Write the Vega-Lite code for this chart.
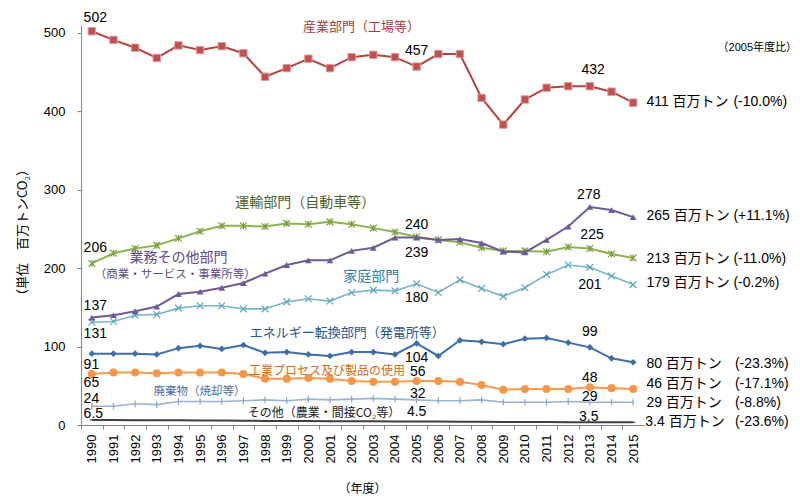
{
  "$schema": "https://vega.github.io/schema/vega-lite/v6.json",
  "width": 563,
  "height": 400,
  "autosize": {"type": "none"},
  "padding": {"left": 81, "top": 25, "right": 156, "bottom": 78},
  "background": "white",
  "config": {"view": {"stroke": null}},
  "datasets": {
    "wide": [
      {"year": 1990, "ind": 502, "tra": 206, "com": 137, "hou": 131, "ene": 91, "ipp": 65, "was": 24, "oth": 6.5},
      {"year": 1991, "ind": 491, "tra": 219, "com": 140, "hou": 132, "ene": 91, "ipp": 67, "was": 24, "oth": 6.4},
      {"year": 1992, "ind": 481, "tra": 225, "com": 145, "hou": 140, "ene": 91, "ipp": 67, "was": 27, "oth": 6.2},
      {"year": 1993, "ind": 468, "tra": 229, "com": 151, "hou": 141, "ene": 90, "ipp": 66, "was": 26, "oth": 6.0},
      {"year": 1994, "ind": 484, "tra": 238, "com": 167, "hou": 149, "ene": 98, "ipp": 67, "was": 30, "oth": 5.9},
      {"year": 1995, "ind": 478, "tra": 247, "com": 170, "hou": 152, "ene": 101, "ipp": 67, "was": 30, "oth": 5.8},
      {"year": 1996, "ind": 483, "tra": 254, "com": 175, "hou": 152, "ene": 97, "ipp": 67, "was": 30, "oth": 5.6},
      {"year": 1997, "ind": 474, "tra": 254, "com": 181, "hou": 148, "ene": 102, "ipp": 65, "was": 31, "oth": 5.4},
      {"year": 1998, "ind": 444, "tra": 253, "com": 193, "hou": 148, "ene": 92, "ipp": 59, "was": 32, "oth": 5.2},
      {"year": 1999, "ind": 455, "tra": 257, "com": 204, "hou": 157, "ene": 93, "ipp": 59, "was": 31, "oth": 5.1},
      {"year": 2000, "ind": 467, "tra": 256, "com": 210, "hou": 161, "ene": 90, "ipp": 60, "was": 33, "oth": 5.0},
      {"year": 2001, "ind": 455, "tra": 259, "com": 210, "hou": 158, "ene": 88, "ipp": 59, "was": 32, "oth": 4.9},
      {"year": 2002, "ind": 469, "tra": 256, "com": 222, "hou": 169, "ene": 93, "ipp": 56, "was": 33, "oth": 4.8},
      {"year": 2003, "ind": 472, "tra": 251, "com": 226, "hou": 172, "ene": 93, "ipp": 55, "was": 34, "oth": 4.7},
      {"year": 2004, "ind": 469, "tra": 246, "com": 239, "hou": 171, "ene": 90, "ipp": 55, "was": 33, "oth": 4.6},
      {"year": 2005, "ind": 457, "tra": 240, "com": 239, "hou": 180, "ene": 104, "ipp": 56, "was": 32, "oth": 4.5},
      {"year": 2006, "ind": 473, "tra": 236, "com": 236, "hou": 169, "ene": 88, "ipp": 56, "was": 31, "oth": 4.4},
      {"year": 2007, "ind": 473, "tra": 233, "com": 237, "hou": 185, "ene": 108, "ipp": 55, "was": 31, "oth": 4.2},
      {"year": 2008, "ind": 417, "tra": 226, "com": 232, "hou": 174, "ene": 106, "ipp": 51, "was": 32, "oth": 4.0},
      {"year": 2009, "ind": 383, "tra": 222, "com": 221, "hou": 164, "ene": 103, "ipp": 45, "was": 29, "oth": 3.9},
      {"year": 2010, "ind": 415, "tra": 222, "com": 220, "hou": 175, "ene": 110, "ipp": 46, "was": 29, "oth": 3.8},
      {"year": 2011, "ind": 430, "tra": 221, "com": 236, "hou": 192, "ene": 111, "ipp": 46, "was": 29, "oth": 3.7},
      {"year": 2012, "ind": 432, "tra": 227, "com": 253, "hou": 204, "ene": 105, "ipp": 46, "was": 30, "oth": 3.6},
      {"year": 2013, "ind": 432, "tra": 225, "com": 278, "hou": 201, "ene": 99, "ipp": 48, "was": 29, "oth": 3.5},
      {"year": 2014, "ind": 425, "tra": 218, "com": 274, "hou": 190, "ene": 85, "ipp": 47, "was": 29, "oth": 3.5},
      {"year": 2015, "ind": 411, "tra": 213, "com": 265, "hou": 179, "ene": 80, "ipp": 46, "was": 29, "oth": 3.4}
    ],
    "numsC": [
      {"year": 2005, "value": 477, "label": "457"},
      {"year": 2013.15, "value": 453, "label": "432"},
      {"year": 2012.95, "value": 293, "label": "278"},
      {"year": 2005, "value": 255, "label": "240"},
      {"year": 2005, "value": 219, "label": "239"},
      {"year": 2013.1, "value": 242, "label": "225"},
      {"year": 2005, "value": 162, "label": "180"},
      {"year": 2013, "value": 179, "label": "201"},
      {"year": 2005, "value": 86, "label": "104"},
      {"year": 2013, "value": 118, "label": "99"},
      {"year": 2005.05, "value": 67, "label": "56"},
      {"year": 2013, "value": 60, "label": "48"},
      {"year": 2005.05, "value": 40, "label": "32"},
      {"year": 2013, "value": 36, "label": "29"},
      {"year": 2005, "value": 17, "label": "4.5"},
      {"year": 2012.95, "value": 10.5, "label": "3.5"}
    ],
    "numsL": [
      {"year": 1989.62, "value": 519, "label": "502"},
      {"year": 1989.62, "value": 226, "label": "206"},
      {"year": 1989.62, "value": 152, "label": "137"},
      {"year": 1989.62, "value": 116, "label": "131"},
      {"year": 1989.62, "value": 76.5, "label": "91"},
      {"year": 1989.62, "value": 53.5, "label": "65"},
      {"year": 1989.62, "value": 33.5, "label": "24"},
      {"year": 1989.62, "value": 14.5, "label": "6.5"}
    ],
    "cats13": [
      {"year": 2002.45, "value": 507.7, "label": "産業部門（工場等）"},
      {"year": 2001.8, "value": 117, "label": "エネルギー転換部門（発電所等）"}
    ],
    "cats14": [
      {"year": 1999.86, "value": 282.8, "label": "運輸部門（自動車等）"},
      {"year": 1994.0, "value": 213, "label": "業務その他部門"},
      {"year": 2002.9, "value": 189.2, "label": "家庭部門"}
    ],
    "cats12": [
      {"year": 2000.86, "value": 69.3, "label": "工業プロセス及び製品の使用"},
      {"year": 2000.72, "value": 14.9, "label": "その他（農業・間接CO₂等）"}
    ],
    "cats11": [
      {"year": 1993.85, "value": 191.5, "label": "（商業・サービス・事業所等）"},
      {"year": 1994.97, "value": 42.5, "label": "廃棄物（焼却等）"}
    ],
    "rightA": [
      {"year": 2015.61, "value": 412, "label": "411 百万トン"},
      {"year": 2015.61, "value": 266.6, "label": "265 百万トン"},
      {"year": 2015.61, "value": 211.7, "label": "213 百万トン"},
      {"year": 2015.61, "value": 180.7, "label": "179 百万トン"},
      {"year": 2015.61, "value": 77.8, "label": "80 百万トン"},
      {"year": 2015.61, "value": 52.3, "label": "46 百万トン"},
      {"year": 2015.61, "value": 28.4, "label": "29 百万トン"},
      {"year": 2015.56, "value": 3.8, "label": "3.4 百万トン"}
    ],
    "rightB": [
      {"year": 2019.63, "value": 412, "label": "(-10.0%)"},
      {"year": 2019.63, "value": 266.6, "label": "(+11.1%)"},
      {"year": 2019.63, "value": 211.7, "label": "(-11.0%)"},
      {"year": 2019.63, "value": 180.7, "label": "(-0.2%)"},
      {"year": 2019.7, "value": 77.8, "label": "(-23.3%)"},
      {"year": 2019.7, "value": 52.3, "label": "(-17.1%)"},
      {"year": 2019.7, "value": 28.4, "label": "(-8.8%)"},
      {"year": 2019.7, "value": 3.8, "label": "(-23.6%)"}
    ],
    "note": [
      {"year": 2018.9, "value": 481, "label": "（2005年度比）"}
    ]
  },
  "encoding": {
    "x": {
      "field": "year",
      "type": "quantitative",
      "scale": {"domain": [1989.5, 2015.5], "nice": false, "zero": false},
      "axis": {
        "values": [1990, 1991, 1992, 1993, 1994, 1995, 1996, 1997, 1998, 1999, 2000, 2001, 2002, 2003, 2004, 2005, 2006, 2007, 2008, 2009, 2010, 2011, 2012, 2013, 2014, 2015, 2016],
        "format": "d",
        "labelExpr": "datum.value > 2015 ? '' : datum.label",
        "labelAngle": 270,
        "labelFlush": false,
        "labelOverlap": false,
        "tickOffset": -10.82,
        "labelOffset": 10.82,
        "grid": false,
        "tickSize": 4,
        "tickColor": "#868686",
        "domainColor": "#868686",
        "labelFont": "Liberation Sans",
        "labelFontSize": 13,
        "labelColor": "#000000",
        "labelPadding": 5,
        "title": "（年度）",
        "titleFont": "Noto Sans CJK JP",
        "titleFontSize": 12,
        "titleFontWeight": "normal",
        "titleColor": "#000000",
        "titleX": 281,
        "titleY": 63,
        "titleAlign": "center",
        "titleBaseline": "middle"
      }
    },
    "y": {
      "field": "value",
      "type": "quantitative",
      "scale": {"domain": [0, 510], "nice": false},
      "axis": {
        "values": [0, 100, 200, 300, 400, 500],
        "grid": false,
        "labelFlush": false,
        "tickSize": 4,
        "tickColor": "#868686",
        "domainColor": "#868686",
        "labelFont": "Liberation Sans",
        "labelFontSize": 13,
        "labelColor": "#000000",
        "labelPadding": 12,
        "title": "（単位　百万トンCO₂）",
        "titleFont": "Noto Sans CJK JP",
        "titleFontSize": 13,
        "titleFontWeight": "normal",
        "titleColor": "#000000",
        "titleAngle": 270,
        "titleX": -59,
        "titleY": 207,
        "titleAlign": "center",
        "titleBaseline": "middle"
      }
    }
  },
  "layer": [
    {
      "data": {"name": "wide"},
      "transform": [{"fold": ["oth"], "as": ["series", "value"]}],
      "layer": [
        {"mark": {"type": "line", "color": "#3f3f3f", "strokeWidth": 2}},
        {"mark": {"type": "point", "shape": "M-1,0L1,0", "filled": false, "color": "#3f3f3f", "size": 20, "strokeWidth": 1, "opacity": 1}}
      ]
    },
    {
      "data": {"name": "wide"},
      "transform": [{"fold": ["was"], "as": ["series", "value"]}],
      "layer": [
        {"mark": {"type": "line", "color": "#9ab2d7", "strokeWidth": 1.6}},
        {"mark": {"type": "point", "shape": "M0,-1L0,1", "filled": false, "color": "#8aa5cf", "size": 45, "strokeWidth": 1.2, "opacity": 1}}
      ]
    },
    {
      "data": {"name": "wide"},
      "transform": [{"fold": ["ipp"], "as": ["series", "value"]}],
      "layer": [
        {"mark": {"type": "line", "color": "#f59a4e", "strokeWidth": 2}},
        {"mark": {"type": "point", "shape": "circle", "filled": true, "color": "#f79646", "size": 65, "opacity": 1}}
      ]
    },
    {
      "data": {"name": "wide"},
      "transform": [{"fold": ["ene"], "as": ["series", "value"]}],
      "layer": [
        {"mark": {"type": "line", "color": "#3e6ea6", "strokeWidth": 2}},
        {"mark": {"type": "point", "shape": "diamond", "filled": true, "color": "#3e6ea6", "size": 45, "opacity": 1}}
      ]
    },
    {
      "data": {"name": "wide"},
      "transform": [{"fold": ["hou"], "as": ["series", "value"]}],
      "layer": [
        {"mark": {"type": "line", "color": "#78b6cb", "strokeWidth": 1.6}},
        {"mark": {"type": "point", "shape": "M-1,-1L1,1M-1,1L1,-1", "filled": false, "color": "#5fa6bf", "size": 45, "strokeWidth": 1.2, "opacity": 1}}
      ]
    },
    {
      "data": {"name": "wide"},
      "transform": [{"fold": ["tra"], "as": ["series", "value"]}],
      "layer": [
        {"mark": {"type": "line", "color": "#8db350", "strokeWidth": 2}},
        {"mark": {"type": "point", "shape": "M-1,-1L1,1M-1,1L1,-1M0,-1L0,1", "filled": false, "color": "#7aa03e", "size": 45, "strokeWidth": 1.2, "opacity": 1}}
      ]
    },
    {
      "data": {"name": "wide"},
      "transform": [{"fold": ["com"], "as": ["series", "value"]}],
      "layer": [
        {"mark": {"type": "line", "color": "#6f5a98", "strokeWidth": 2}},
        {"mark": {"type": "point", "shape": "triangle-up", "filled": true, "color": "#6f5a98", "size": 45, "opacity": 1}}
      ]
    },
    {
      "data": {"name": "wide"},
      "transform": [{"fold": ["ind"], "as": ["series", "value"]}],
      "layer": [
        {"mark": {"type": "line", "color": "#b5433f", "strokeWidth": 2}},
        {"mark": {"type": "point", "shape": "square", "filled": true, "fill": "#c0504d", "stroke": "#dc9c9a", "strokeWidth": 1, "size": 55, "opacity": 1}}
      ]
    },
    {
      "data": {"name": "numsC"},
      "mark": {"type": "text", "font": "Liberation Sans", "fontSize": 14, "align": "center", "baseline": "middle", "color": "#000000"},
      "encoding": {"text": {"field": "label"}}
    },
    {
      "data": {"name": "numsL"},
      "mark": {"type": "text", "font": "Liberation Sans", "fontSize": 14, "align": "left", "baseline": "middle", "color": "#000000"},
      "encoding": {"text": {"field": "label"}}
    },
    {
      "data": {"name": "cats13"},
      "mark": {"type": "text", "font": "Noto Sans CJK JP", "fontSize": 13, "align": "center", "baseline": "middle"},
      "encoding": {
        "text": {"field": "label"},
        "color": {"field": "label", "type": "nominal", "legend": null,
          "scale": {
            "domain": ["産業部門（工場等）", "エネルギー転換部門（発電所等）", "運輸部門（自動車等）", "業務その他部門", "家庭部門", "工業プロセス及び製品の使用", "その他（農業・間接CO₂等）", "（商業・サービス・事業所等）", "廃棄物（焼却等）"],
            "range": ["#a0403c", "#24568f", "#4f6228", "#5f4b8b", "#31859c", "#d46a1a", "#222222", "#5f4b8b", "#4a6fa5"]
          }}
      }
    },
    {
      "data": {"name": "cats14"},
      "mark": {"type": "text", "font": "Noto Sans CJK JP", "fontSize": 14, "align": "center", "baseline": "middle"},
      "encoding": {"text": {"field": "label"}, "color": {"field": "label", "type": "nominal", "legend": null}}
    },
    {
      "data": {"name": "cats12"},
      "mark": {"type": "text", "font": "Noto Sans CJK JP", "fontSize": 12, "align": "center", "baseline": "middle"},
      "encoding": {"text": {"field": "label"}, "color": {"field": "label", "type": "nominal", "legend": null}}
    },
    {
      "data": {"name": "cats11"},
      "mark": {"type": "text", "font": "Noto Sans CJK JP", "fontSize": 11.5, "align": "center", "baseline": "middle"},
      "encoding": {"text": {"field": "label"}, "color": {"field": "label", "type": "nominal", "legend": null}}
    },
    {
      "data": {"name": "rightA"},
      "mark": {"type": "text", "font": "Liberation Sans, Noto Sans CJK JP", "fontSize": 14, "align": "left", "baseline": "middle", "color": "#000000"},
      "encoding": {"text": {"field": "label"}}
    },
    {
      "data": {"name": "rightB"},
      "mark": {"type": "text", "font": "Liberation Sans", "fontSize": 14, "align": "left", "baseline": "middle", "color": "#000000"},
      "encoding": {"text": {"field": "label"}}
    },
    {
      "data": {"name": "note"},
      "mark": {"type": "text", "font": "Liberation Sans, Noto Sans CJK JP", "fontSize": 11, "align": "left", "baseline": "middle", "color": "#000000"},
      "encoding": {"text": {"field": "label"}}
    }
  ]
}
